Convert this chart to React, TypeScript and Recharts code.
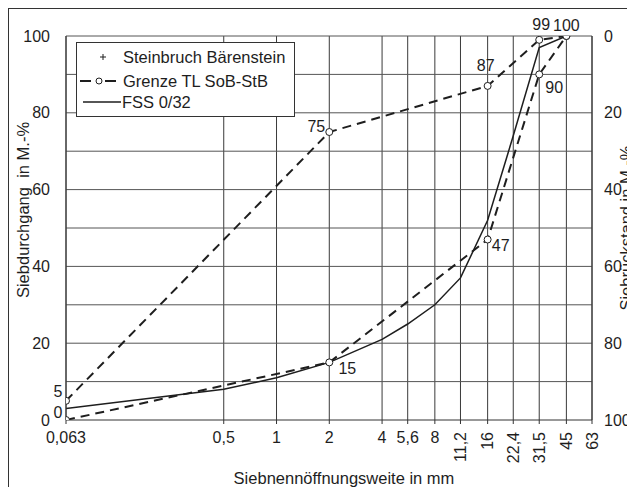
import React from 'react';
import {
  LineChart, Line, XAxis, YAxis, CartesianGrid, ReferenceLine, Legend, LabelList
} from 'recharts';

// Siebweiten (mm) und Achsenteilung
const sieveTicks = [0.063, 0.5, 1, 2, 4, 5.6, 8, 11.2, 16, 22.4, 31.5, 45, 63];
const passTicks = [0, 20, 40, 60, 80, 100];
const gridLevels = [10, 20, 30, 40, 50, 60, 70, 80, 90, 100];

// Grenzlinien TL SoB-StB
const limitSieves = [0.063, 2, 16, 31.5, 45];
const upperLimit = [5, 75, 87, 99, 100];
const lowerLimit = [0, 15, 47, 90, 100];
const upperLabels = ['5', '75', '87', '99', ''];
const lowerLabels = ['0', '15', '47', '90', '100'];

// Sieblinie FSS 0/32
const fssSieves = [0.063, 0.5, 1, 2, 4, 5.6, 8, 11.2, 16, 22.4, 31.5, 45];
const fssPassing = [3, 8, 11, 15, 21, 25, 30, 37, 52, 74, 97, 100];

const seriesNames = ['Steinbruch Bärenstein', 'Grenze TL SoB-StB', 'FSS 0/32'];

const upperData = limitSieves.map((x, i) => ({ x, y: upperLimit[i], label: upperLabels[i] }));
const lowerData = limitSieves.map((x, i) => ({ x, y: lowerLimit[i], label: lowerLabels[i] }));
const fssData = fssSieves.map((x, i) => ({ x, y: fssPassing[i] }));

// Lage der Beschriftungen relativ zum Punkt (nur Darstellung)
const upperLabelShift = [[-8, -9], [-13, -6], [-2, -20], [2, -15], [0, 0]];
const lowerLabelShift = [[-8, -8], [18, 6], [13, 6], [15, 13], [0, -11]];

const FONT = '"Liberation Sans", Arial, sans-serif';
const INK = '#1e1e1e';
const FS = 16;
const fmt = (v: number) => String(v).replace('.', ',');

const XTick = ({ x, y, payload }: any) => {
  const v = payload.value;
  if (v >= 11.2) {
    return (
      <text x={x} y={y + 8} transform={`rotate(-90, ${x}, ${y + 8})`} textAnchor="end"
        dominantBaseline="central" fontSize={FS} fontFamily={FONT} fill={INK}>
        {fmt(v)}
      </text>
    );
  }
  return (
    <text x={x} y={y + 13} textAnchor="middle" dominantBaseline="central"
      fontSize={FS} fontFamily={FONT} fill={INK}>
      {fmt(v)}
    </text>
  );
};

const LeftTick = ({ x, y, payload }: any) => (
  <text x={x} y={y} textAnchor="end" dominantBaseline="central" fontSize={FS} fontFamily={FONT} fill={INK}>
    {payload.value}
  </text>
);

const RightTick = ({ x, y, payload }: any) => (
  <text x={x} y={y} textAnchor="start" dominantBaseline="central" fontSize={FS} fontFamily={FONT} fill={INK}>
    {payload.value}
  </text>
);

const OpenDot = ({ cx, cy }: any) => (
  <circle key={`${cx}-${cy}`} cx={cx} cy={cy} r={3.5} fill="#fff" stroke={INK} strokeWidth={1} />
);

const makeLabel = (shift: number[][]) => (props: any) => {
  const { x, y, index, value } = props;
  if (!value) return null;
  const [dx, dy] = shift[index] || [0, 0];
  return (
    <text x={x + dx} y={y + dy} textAnchor="middle" dominantBaseline="central"
      fontSize={FS} fontFamily={FONT} fill={INK}>
      {value}
    </text>
  );
};

const legendRows = [15, 39, 60];

const renderLegend = () => (
  <svg width={219} height={75} style={{ display: 'block' }}>
    <rect x={0.5} y={0.5} width={218} height={74} fill="#fff" stroke="#333" strokeWidth={1} />
    <line x1={27} y1={12} x2={27} y2={18} stroke={INK} strokeWidth={1} />
    <line x1={24} y1={15} x2={30} y2={15} stroke={INK} strokeWidth={1} />
    <line x1={4} y1={39} x2={15} y2={39} stroke={INK} strokeWidth={2} />
    <circle cx={23} cy={39} r={3} fill="#fff" stroke={INK} strokeWidth={1} />
    <line x1={29} y1={39} x2={40} y2={39} stroke={INK} strokeWidth={2} />
    <line x1={7} y1={60} x2={45} y2={60} stroke={INK} strokeWidth={1.3} />
    {seriesNames.map((name, i) => (
      <text key={name} x={i === 2 ? 46 : 47} y={legendRows[i]} dominantBaseline="central"
        fontSize={16.5} fontFamily={FONT} fill={INK}>{name}</text>
    ))}
  </svg>
);

export default function App() {
  return (
    <div style={{ width: 626, height: 478, borderLeft: '1px solid #333', borderTop: '1px solid #333', fontFamily: FONT }}>
      <LineChart width={626} height={478} margin={{ top: 27, right: 0, bottom: 0, left: 0 }}>
        <CartesianGrid horizontal={false} stroke="#3a3a3a" strokeWidth={1} />
        <XAxis
          dataKey="x" type="number" scale="log" domain={[0.063, 63]} ticks={sieveTicks}
          allowDataOverflow interval={0} height={67} tickSize={4} tickMargin={0}
          tick={<XTick />} stroke="#333"
          label={(p: any) => (
            <text x={p.viewBox.x + 278} y={p.viewBox.y + 58} textAnchor="middle" dominantBaseline="central"
              fontSize={16.5} fontFamily={FONT} fill={INK}>Siebnennöffnungsweite in mm</text>
          )}
        />
        <YAxis
          yAxisId="left" type="number" domain={[0, 100]} ticks={passTicks} width={57}
          tickSize={0} tickMargin={16} tick={<LeftTick />} stroke="#333" allowDataOverflow
          label={(p: any) => (
            <text x={p.viewBox.x + 14} y={p.viewBox.y + 174} transform={`rotate(-90, ${p.viewBox.x + 14}, ${p.viewBox.y + 174})`}
              textAnchor="middle" dominantBaseline="central" fontSize={16.5} fontFamily={FONT} fill={INK}
              style={{ whiteSpace: 'pre' }}>{'Siebdurchgang  in M.-%'}</text>
          )}
        />
        <YAxis
          yAxisId="right" orientation="right" type="number" domain={[0, 100]} reversed ticks={passTicks}
          width={43} tickSize={0} tickMargin={12} tick={<RightTick />} stroke="#333" allowDataOverflow
          label={(p: any) => (
            <text x={p.viewBox.x + 34} y={p.viewBox.y + 192} transform={`rotate(-90, ${p.viewBox.x + 34}, ${p.viewBox.y + 192})`}
              textAnchor="middle" dominantBaseline="central" fontSize={16.5} fontFamily={FONT} fill={INK}>
              Siebrückstand in M.-%
            </text>
          )}
        />
        {gridLevels.map(v => (
          <ReferenceLine key={v} yAxisId="left" y={v} stroke="#555" strokeWidth={1} ifOverflow="extendDomain" />
        ))}
        <Legend content={renderLegend} layout="horizontal" verticalAlign="middle" align="center"
          wrapperStyle={{ left: 67, top: 33, width: 219, height: 75 }} />
        <Line yAxisId="left" data={upperData} dataKey="y" name={seriesNames[1]} stroke={INK} strokeWidth={2}
          strokeDasharray="9 6" dot={<OpenDot />} activeDot={false} isAnimationActive={false} legendType="none">
          <LabelList dataKey="label" content={makeLabel(upperLabelShift)} />
        </Line>
        <Line yAxisId="left" data={lowerData} dataKey="y" name="lower" stroke={INK} strokeWidth={2}
          strokeDasharray="9 6" dot={<OpenDot />} activeDot={false} isAnimationActive={false} legendType="none">
          <LabelList dataKey="label" content={makeLabel(lowerLabelShift)} />
        </Line>
        <Line yAxisId="left" data={fssData} dataKey="y" name={seriesNames[2]} stroke={INK} strokeWidth={1.5}
          dot={false} activeDot={false} isAnimationActive={false} legendType="none" />
      </LineChart>
    </div>
  );
}
